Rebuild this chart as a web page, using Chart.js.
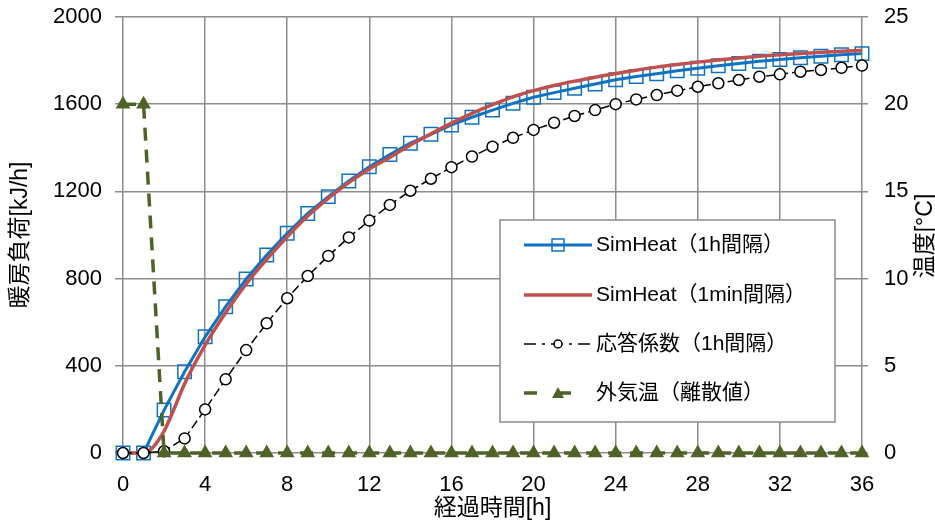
<!DOCTYPE html>
<html>
<head>
<meta charset="utf-8">
<script src="https://cdn.jsdelivr.net/npm/chart.js@4.4.1/dist/chart.umd.min.js"></script>
<style>
  html, body { margin: 0; padding: 0; background: #fff; }
</style>
</head>
<body>
<canvas id="myChart" width="935" height="522"></canvas>
<script>
// horas (eje x) para las series de 1h
const horas = [0, 1, 2, 3, 4, 5, 6, 7, 8, 9, 10, 11, 12, 13, 14, 15, 16, 17, 18,
  19, 20, 21, 22, 23, 24, 25, 26, 27, 28, 29, 30, 31, 32, 33, 34, 35, 36];

// SimHeat (1h)
const simHeat1h = [0, 0, 197, 373, 533, 671, 798, 908, 1008, 1099, 1176, 1248, 1313, 1369,
  1421, 1462, 1505, 1540, 1573, 1604, 1632, 1653, 1673, 1693, 1712, 1727, 1740, 1753,
  1765, 1776, 1787, 1797, 1805, 1813, 1820, 1827, 1832];

// SimHeat (1min)
const horasMin = [0, 1, 1.25, 1.5, 1.75, 2, 2.5, 3, 4, 5, 6, 7, 8, 9, 10, 11, 12, 13, 14,
  15, 16, 17, 18, 19, 20, 21, 22, 23, 24, 25, 26, 27, 28, 29, 30, 31, 32, 33, 34, 35, 36];
const simHeat1min = [0, 0, 8, 30, 62, 100, 205, 318, 495, 643, 775, 888, 992, 1087, 1168,
  1240, 1303, 1356, 1413, 1464, 1513, 1558, 1598, 1634, 1662, 1686, 1706, 1724, 1741,
  1756, 1770, 1782, 1793, 1803, 1812, 1820, 1827, 1833, 1838, 1843, 1847];

// 応答係数 (1h)
const respuesta = [0, 0, 8, 67, 200, 338, 472, 595, 710, 812, 904, 989, 1066, 1138, 1203,
  1258, 1311, 1360, 1405, 1446, 1482, 1515, 1546, 1573, 1600, 1622, 1642, 1662, 1680,
  1696, 1711, 1726, 1737, 1749, 1757, 1767, 1777];

// 外気温 (eje derecho)
const tempExt = [20, 20, 0, 0, 0, 0, 0, 0, 0, 0, 0, 0, 0, 0, 0, 0, 0, 0, 0, 0, 0, 0, 0,
  0, 0, 0, 0, 0, 0, 0, 0, 0, 0, 0, 0, 0, 0];

const etiquetas = ['SimHeat（1h間隔）', 'SimHeat（1min間隔）', '応答係数（1h間隔）', '外気温（離散値）'];
const tituloX = '経過時間[h]';
const tituloY = '暖房負荷[kJ/h]';
const tituloY2 = '温度[°C]';

const azul = '#0f72c2';
const rojo = '#c0504d';
const negro = '#000000';
const verde = '#4f6228';
const gris = '#8c8c8c';
const fuente = "'Liberation Sans', 'Noto Sans CJK JP', sans-serif";

Chart.defaults.font.family = fuente;
Chart.defaults.color = '#000';

function pares(xs, ys) {
  return xs.map((x, i) => ({ x: x, y: ys[i] }));
}

const ctx = document.getElementById('myChart');

// leyenda y titulo derecho dibujados a mano
const leyenda = {
  id: 'leyenda',
  afterDraw(chart) {
    const c = chart.ctx;
    c.save();

    c.fillStyle = '#fff';
    c.fillRect(500, 220, 335, 202);
    c.strokeStyle = gris;
    c.lineWidth = 1.5;
    c.strokeRect(500, 220, 335, 202);

    const filas = [245, 295, 344, 393];
    const estilos = [
      { color: azul, ancho: 3, dash: [], marca: 'rect' },
      { color: rojo, ancho: 3.5, dash: [], marca: null },
      { color: negro, ancho: 1.5, dash: [12, 6, 3, 6], marca: 'circle' },
      { color: verde, ancho: 3.5, dash: [13, 21], marca: 'triangle' }
    ];

    for (let i = 0; i < filas.length; i++) {
      const y = filas[i];
      const e = estilos[i];
      c.strokeStyle = e.color;
      c.lineWidth = e.ancho;
      c.setLineDash(e.dash);
      c.beginPath();
      c.moveTo(524, y);
      c.lineTo(592, y);
      c.stroke();
      c.setLineDash([]);

      if (e.marca == 'rect') {
        c.fillStyle = '#fff';
        c.lineWidth = 1.5;
        c.strokeRect(552, y - 6, 12, 12);
      } else if (e.marca == 'circle') {
        c.fillStyle = '#fff';
        c.lineWidth = 1.5;
        c.beginPath();
        c.arc(558, y, 4, 0, Math.PI * 2);
        c.fill();
        c.stroke();
      } else if (e.marca == 'triangle') {
        c.fillStyle = e.color;
        c.beginPath();
        c.moveTo(558, y - 6);
        c.lineTo(564, y + 5);
        c.lineTo(552, y + 5);
        c.closePath();
        c.fill();
      }

      c.fillStyle = '#000';
      c.font = '21px ' + fuente;
      c.textAlign = 'left';
      c.textBaseline = 'middle';
      c.fillText(etiquetas[i], 596, y);
    }

    c.translate(926, 236);
    c.rotate(-Math.PI / 2);
    c.font = '23px ' + fuente;
    c.textAlign = 'center';
    c.textBaseline = 'middle';
    c.fillText(tituloY2, 0, 0);

    c.restore();
  }
};

new Chart(ctx, {
  type: 'line',
  data: {
    datasets: [
      {
        label: etiquetas[3],
        data: pares(horas, tempExt),
        yAxisID: 'y1',
        borderColor: verde,
        backgroundColor: verde,
        borderWidth: 3.5,
        borderDash: [13, 9],
        pointStyle: 'triangle',
        pointRadius: 8.5,
        pointBorderWidth: 0,
        pointBackgroundColor: verde,
        clip: false
      },
      {
        label: etiquetas[2],
        data: pares(horas, respuesta),
        yAxisID: 'y',
        borderColor: negro,
        borderWidth: 1.5,
        borderDash: [9, 4],
        pointStyle: 'circle',
        pointRadius: 5.5,
        pointBorderWidth: 1.5,
        pointBorderColor: negro,
        pointBackgroundColor: '#fff',
        clip: false
      },
      {
        label: etiquetas[1],
        data: pares(horasMin, simHeat1min),
        yAxisID: 'y',
        borderColor: rojo,
        borderWidth: 3.5,
        pointRadius: 0,
        cubicInterpolationMode: 'monotone',
        clip: false
      },
      {
        label: etiquetas[0],
        data: pares(horas, simHeat1h),
        yAxisID: 'y',
        borderColor: azul,
        borderWidth: 3,
        pointStyle: 'rect',
        pointRadius: 9.5,
        pointBorderWidth: 1.5,
        pointBorderColor: azul,
        pointBackgroundColor: 'rgba(0,0,0,0)',
        clip: false
      }
    ]
  },
  options: {
    responsive: false,
    animation: false,
    layout: { padding: { top: 17, left: 0, right: 0, bottom: 0 } },
    plugins: {
      legend: { display: false },
      tooltip: { enabled: false }
    },
    scales: {
      x: {
        type: 'linear',
        min: 0,
        max: 36,
        ticks: { stepSize: 4, padding: 19, font: { size: 22 }, color: '#000', maxRotation: 0 },
        grid: { color: gris, lineWidth: 1.5, tickLength: 0 },
        border: { display: false },
        title: { display: true, text: tituloX, font: { size: 23 }, color: '#000', padding: { top: 0, bottom: 0 } },
        afterFit(s) { s.height = 69; s.paddingLeft = 0; s.paddingRight = 0; }
      },
      y: {
        position: 'left',
        min: 0,
        max: 2000,
        ticks: { stepSize: 400, padding: 13, font: { size: 22 }, color: '#000', callback: v => String(v) },
        grid: { color: gris, lineWidth: 1.5, tickLength: 8 },
        border: { display: false },
        title: { display: true, text: tituloY, font: { size: 23 }, color: '#000', padding: { top: 7, bottom: 0 } },
        afterFit(s) { s.width = 123; s.paddingTop = 0; s.paddingBottom = 0; }
      },
      y1: {
        position: 'right',
        min: 0,
        max: 25,
        ticks: { stepSize: 5, padding: 16, font: { size: 22 }, color: '#000' },
        grid: { color: gris, lineWidth: 1.5, tickLength: 6, drawOnChartArea: false },
        border: { display: false },
        afterFit(s) { s.width = 73; s.paddingTop = 0; s.paddingBottom = 0; }
      }
    }
  },
  plugins: [leyenda]
});
</script>
</body>
</html>
